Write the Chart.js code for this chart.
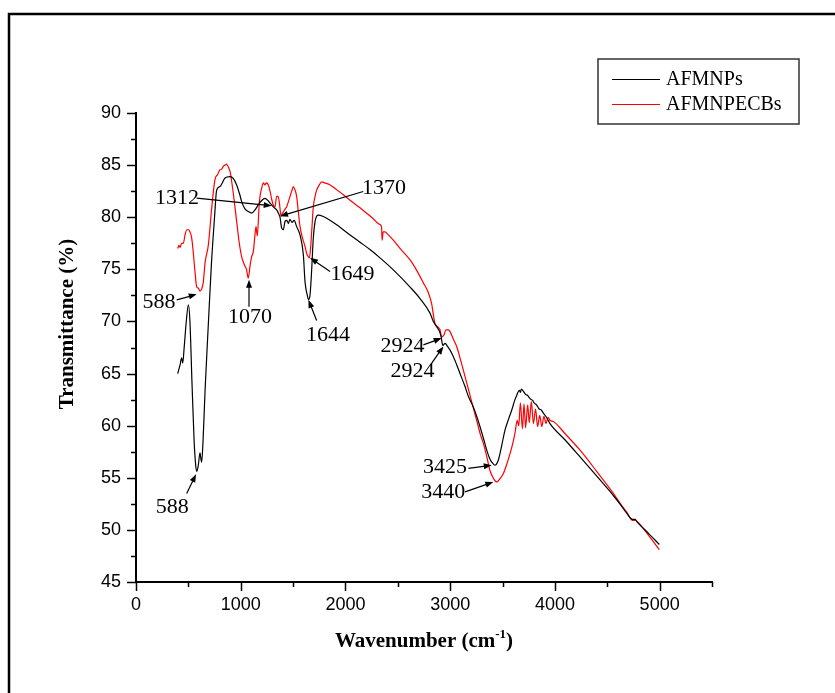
<!DOCTYPE html>
<html>
<head>
<meta charset="utf-8">
<script src="https://cdn.jsdelivr.net/npm/chart.js@4.4.0/dist/chart.umd.min.js"></script>
<style>
    html, body { margin: 0; padding: 0; background: #fff; }
    #wrap { width: 835px; height: 693px; position: relative; }
</style>
</head>
<body>
<div id="wrap"><canvas id="ftir-chart"></canvas></div>
<script>
// series names
const seriesNames = ['AFMNPs', 'AFMNPECBs'];

// AFMNPs (black)
const afmnpWn = [398, 420, 436, 446, 460, 480, 500, 515, 535, 555, 570, 580, 595, 611, 620, 627, 640, 660, 688, 720,
    750, 770, 802, 850, 898, 930, 961, 990, 1009, 1040, 1072, 1104, 1136, 1168, 1200, 1232, 1260, 1280, 1311, 1343,
    1359, 1375, 1391, 1407, 1423, 1440, 1455, 1470, 1490, 1510, 1534, 1566, 1598, 1614, 1636, 1646, 1660, 1675, 1693, 1710,
    1725, 1741, 1789, 1821, 1916, 2044, 2139, 2234, 2330, 2457, 2617, 2712, 2807, 2839, 2871, 2895, 2912, 2930, 2951, 2975,
    3015, 3060, 3094, 3140, 3174, 3221, 3250, 3285, 3320, 3349, 3375, 3397, 3428, 3460, 3490, 3524, 3560, 3588, 3615, 3635,
    3660, 3670, 3680, 3699, 3720, 3740, 3762, 3790, 3800, 3826, 3850, 3870, 3890, 3920, 3953, 4100, 4240, 4400, 4558, 4620,
    4685, 4740, 4765, 4790, 4900, 4997];
const afmnpT = [65.0, 65.8, 66.5, 66.0, 67.5, 70.0, 71.6, 70.0, 64.0, 58.5, 56.2, 55.6, 56.2, 57.4, 56.8, 56.5, 58.5, 63.5, 69.2, 75.5,
    80.0, 82.6, 82.95, 83.76, 83.9, 83.7, 83.1, 82.2, 81.5, 80.8, 80.55, 80.4, 80.7, 81.2, 81.6, 81.8, 81.6, 81.35, 81.0, 80.7,
    80.4, 80.0, 78.96, 78.8, 79.6, 79.7, 79.4, 79.8, 79.5, 79.7, 79.1, 78.3, 76.4, 73.8, 72.5, 72.1, 72.4, 74.5, 78.0, 79.6,
    80.1, 80.2, 80.07, 79.9, 79.27, 78.3, 77.6, 76.9, 76.1, 74.95, 73.3, 72.2, 70.8, 70.0, 69.5, 69.1, 68.6, 67.7, 67.9, 67.6,
    66.95, 65.9, 65.0, 63.8, 62.8, 61.8, 61.0, 59.9, 58.7, 57.65, 56.9, 56.5, 56.2, 56.7, 58.0, 59.6, 60.7, 61.5, 62.4, 62.9,
    63.4, 63.2, 63.5, 63.3, 63.0, 62.9, 62.6, 62.4, 62.2, 61.98, 61.6, 61.5, 61.2, 60.8, 60.2, 58.6, 57.0, 55.15, 53.3, 52.5,
    51.6, 51.0, 51.0, 50.7, 49.6, 48.6];

// AFMNPECBs (red)
const ecbWn = [398, 410, 420, 436, 452, 468, 485, 500, 515, 532, 548, 563, 580, 595, 611, 627, 643, 659, 691, 723,
    754, 780, 802, 818, 835, 850, 865, 882, 900, 914, 935, 961, 985, 1009, 1025, 1041, 1055, 1072, 1090, 1104,
    1120, 1136, 1146, 1158, 1178, 1200, 1216, 1230, 1245, 1264, 1280, 1296, 1310, 1327, 1343, 1356, 1369, 1385, 1395, 1407,
    1425, 1439, 1455, 1471, 1490, 1502, 1515, 1534, 1550, 1566, 1590, 1614, 1630, 1646, 1656, 1668, 1680, 1693, 1710, 1725,
    1750, 1773, 1800, 1853, 1920, 1980, 2060, 2139, 2200, 2266, 2300, 2330, 2345, 2350, 2360, 2378, 2400, 2457, 2521, 2617,
    2680, 2744, 2790, 2823, 2840, 2855, 2880, 2903, 2919, 2940, 2960, 2983, 3000, 3030, 3062, 3110, 3158, 3200, 3253, 3290,
    3317, 3350, 3380, 3410, 3444, 3475, 3508, 3540, 3571, 3600, 3619, 3640, 3655, 3670, 3690, 3705, 3720, 3740, 3755, 3775,
    3795, 3815, 3835, 3855, 3875, 3895, 3915, 3935, 3955, 3985, 4100, 4240, 4400, 4558, 4620, 4685, 4730, 4749, 4770, 4797,
    4900, 4997];
const ecbT = [77.0, 77.3, 77.1, 77.5, 77.5, 78.3, 78.8, 78.8, 78.6, 78.0, 76.5, 74.8, 73.3, 73.2, 72.9, 73.1, 73.8, 75.6, 77.35, 80.9,
    83.6, 84.1, 84.55, 84.6, 84.9, 85.0, 85.1, 84.8, 84.3, 83.4, 81.8, 79.6, 77.6, 76.2, 75.7, 75.3, 75.0, 74.15, 75.4, 76.2,
    76.7, 78.3, 79.1, 78.2, 81.5, 82.8, 83.3, 83.1, 83.3, 83.1, 82.5, 81.7, 81.2, 81.0, 82.0, 82.0, 81.4, 80.1, 80.3, 80.5,
    80.8, 81.0, 81.5, 82.0, 82.6, 82.95, 82.7, 82.0, 80.5, 79.1, 78.0, 77.2, 76.5, 76.2, 76.1, 77.2, 79.0, 81.0, 82.0, 82.6,
    83.1, 83.4, 83.3, 83.1, 82.6, 82.15, 81.5, 80.9, 80.4, 79.85, 79.5, 79.3, 79.0, 77.8, 78.6, 78.6, 78.4, 77.8, 77.0, 75.9,
    74.9, 73.7, 72.8, 71.7, 70.6, 69.8, 69.5, 69.2, 68.5, 68.7, 69.2, 69.2, 69.0, 68.3, 67.6, 65.9, 64.1, 62.5, 60.5, 59.1,
    58.3, 57.0, 55.7, 55.0, 54.6, 54.9, 55.4, 56.3, 57.3, 58.4, 59.3, 60.5, 60.0, 62.2, 59.7, 62.1, 59.8, 62.0, 60.3, 62.3,
    60.2, 61.6, 59.9, 61.0, 59.9, 60.9, 60.2, 60.8, 60.5, 60.4, 59.2, 57.65, 55.6, 53.5, 52.6, 51.7, 51.0, 50.9, 50.9, 50.7,
    49.4, 48.1];

// axis ticks
const xTickValues = [0, 1000, 2000, 3000, 4000, 5000];
const yTickValues = [45, 50, 55, 60, 65, 70, 75, 80, 85, 90];

// peak labels: text centre and arrow tail/tip, in data units
const peakLabels = [
    { text: '1312', at: [391, 81.85], from: [579, 81.83], to: [1296, 81.1] },
    { text: '1370', at: [2368, 82.8], from: [2170, 82.47], to: [1375, 80.1] },
    { text: '588', at: [220, 71.8], from: [389, 72.07], to: [580, 72.6] },
    { text: '1070', at: [1089, 70.45], from: [1079, 71.4], to: [1079, 74.0] },
    { text: '1649', at: [2067, 74.5], from: [1853, 74.8], to: [1662, 76.1] },
    { text: '1644', at: [1833, 68.7], from: [1725, 70.1], to: [1646, 72.07] },
    { text: '588', at: [345, 52.2], from: [484, 53.5], to: [573, 55.35] },
    { text: '2924', at: [2545, 67.6], from: [2744, 67.75], to: [2919, 68.4] },
    { text: '2924', at: [2640, 65.2], from: [2824, 66.0], to: [2935, 67.6] },
    { text: '3425', at: [2951, 56.05], from: [3174, 55.9], to: [3397, 56.2] },
    { text: '3440', at: [2935, 53.65], from: [3142, 53.65], to: [3412, 54.6] }
];

const serif = "'Liberation Serif', 'Times New Roman', serif";
const sans = "'Liberation Sans', Arial, sans-serif";

function toPoints(xs, ys) {
    return xs.map((x, i) => ({ x: x, y: ys[i] }));
}

function drawArrow(ctx, x0, y0, x1, y1) {
    const ang = Math.atan2(y1 - y0, x1 - x0);
    const len = 8, half = 3;
    ctx.beginPath();
    ctx.moveTo(x0, y0);
    ctx.lineTo(x1 - Math.cos(ang) * len * 0.8, y1 - Math.sin(ang) * len * 0.8);
    ctx.stroke();
    ctx.beginPath();
    ctx.moveTo(x1, y1);
    ctx.lineTo(x1 - Math.cos(ang) * len - Math.sin(ang) * half, y1 - Math.sin(ang) * len + Math.cos(ang) * half);
    ctx.lineTo(x1 - Math.cos(ang) * len + Math.sin(ang) * half, y1 - Math.sin(ang) * len - Math.cos(ang) * half);
    ctx.closePath();
    ctx.fill();
}

const decorPlugin = {
    id: 'decor',
    beforeDraw(chart) {
        const ctx = chart.ctx;
        ctx.save();
        ctx.fillStyle = '#fff';
        ctx.fillRect(0, 0, chart.width, chart.height);
        // outer frame (top and left only)
        ctx.strokeStyle = '#000';
        ctx.lineWidth = 2.5;
        ctx.beginPath();
        ctx.moveTo(9, chart.height);
        ctx.lineTo(9, 14);
        ctx.lineTo(chart.width, 14);
        ctx.stroke();
        ctx.restore();
    },
    afterDraw(chart) {
        const ctx = chart.ctx;
        const xs = chart.scales.x;
        const ys = chart.scales.y;
        ctx.save();
        ctx.strokeStyle = '#000';
        ctx.fillStyle = '#000';
        ctx.lineWidth = 1.5;

        // tick marks, major and minor, pointing outward
        for (let v = xs.min; v <= xs.max; v += 500) {
            const px = Math.round(xs.getPixelForValue(v)) + 0.5;
            const len = v % 1000 === 0 ? 9 : 5;
            ctx.beginPath();
            ctx.moveTo(px, xs.top);
            ctx.lineTo(px, xs.top + len);
            ctx.stroke();
        }
        for (let v = ys.min; v <= ys.max; v += 2.5) {
            const py = Math.round(ys.getPixelForValue(v)) + 0.5;
            const len = v % 5 === 0 ? 9 : 5;
            ctx.beginPath();
            ctx.moveTo(ys.right, py);
            ctx.lineTo(ys.right - len, py);
            ctx.stroke();
        }

        // axis titles
        ctx.font = 'bold 21px ' + serif;
        ctx.textBaseline = 'alphabetic';
        ctx.save();
        ctx.translate(73, 324);
        ctx.rotate(-Math.PI / 2);
        ctx.textAlign = 'center';
        ctx.fillText('Transmittance (%)', 0, 0);
        ctx.restore();

        const mainTxt = 'Wavenumber (cm';
        const supTxt = '-1';
        const endTxt = ')';
        ctx.font = 'bold 21px ' + serif;
        const w1 = ctx.measureText(mainTxt).width;
        const w3 = ctx.measureText(endTxt).width;
        ctx.font = 'bold 13px ' + serif;
        const w2 = ctx.measureText(supTxt).width;
        const cx = (xs.left + xs.right) / 2;
        let tx = cx - (w1 + w2 + w3) / 2;
        ctx.textAlign = 'left';
        ctx.font = 'bold 21px ' + serif;
        ctx.fillText(mainTxt, tx, 647);
        ctx.font = 'bold 13px ' + serif;
        ctx.fillText(supTxt, tx + w1, 638);
        ctx.font = 'bold 21px ' + serif;
        ctx.fillText(endTxt, tx + w1 + w2, 647);

        // peak labels with arrows
        ctx.font = '22px ' + serif;
        ctx.textAlign = 'center';
        ctx.textBaseline = 'middle';
        ctx.lineWidth = 1.2;
        peakLabels.forEach(p => {
            ctx.fillText(p.text, xs.getPixelForValue(p.at[0]), ys.getPixelForValue(p.at[1]));
            drawArrow(ctx,
                xs.getPixelForValue(p.from[0]), ys.getPixelForValue(p.from[1]),
                xs.getPixelForValue(p.to[0]), ys.getPixelForValue(p.to[1]));
        });

        // legend box
        ctx.lineWidth = 1.5;
        ctx.strokeStyle = '#333';
        ctx.strokeRect(598, 59, 201, 65);
        ctx.font = '20px ' + serif;
        ctx.textAlign = 'left';
        ctx.textBaseline = 'middle';
        chart.data.datasets.forEach((ds, i) => {
            const ly = 79 + i * 25;
            ctx.strokeStyle = ds.borderColor;
            ctx.lineWidth = 1.2;
            ctx.beginPath();
            ctx.moveTo(612, ly + 0.5);
            ctx.lineTo(660, ly + 0.5);
            ctx.stroke();
            ctx.fillStyle = '#000';
            ctx.fillText(ds.label, 666, ly + 1);
        });
        ctx.restore();
    }
};

const ctx = document.getElementById('ftir-chart').getContext('2d');
new Chart(ctx, {
    type: 'line',
    data: {
        datasets: [
            {
                label: seriesNames[0],
                data: toPoints(afmnpWn, afmnpT),
                borderColor: '#000000',
                borderWidth: 1.2,
                pointRadius: 0,
                fill: false,
                cubicInterpolationMode: 'monotone'
            },
            {
                label: seriesNames[1],
                data: toPoints(ecbWn, ecbT),
                borderColor: '#ff0000',
                borderWidth: 1.2,
                pointRadius: 0,
                fill: false,
                cubicInterpolationMode: 'monotone'
            }
        ]
    },
    options: {
        responsive: true,
        maintainAspectRatio: false,
        animation: false,
        layout: {
            padding: { left: 0, top: 113, right: 123, bottom: 0 }
        },
        plugins: {
            legend: { display: false },
            tooltip: { enabled: false }
        },
        scales: {
            x: {
                type: 'linear',
                min: 0,
                max: 5500,
                grid: { display: false },
                border: { display: true, color: '#000', width: 2 },
                afterBuildTicks: scale => { scale.ticks = xTickValues.map(v => ({ value: v })); },
                afterFit: scale => { scale.height = 111; },
                ticks: {
                    color: '#000',
                    padding: 4,
                    maxRotation: 0,
                    font: { family: sans, size: 18 },
                    callback: v => String(v)
                }
            },
            y: {
                type: 'linear',
                min: 45,
                max: 90,
                grid: { display: false },
                border: { display: true, color: '#000', width: 2 },
                afterBuildTicks: scale => { scale.ticks = yTickValues.map(v => ({ value: v })); },
                afterFit: scale => { scale.width = 136; },
                ticks: {
                    color: '#000',
                    padding: 7,
                    font: { family: sans, size: 18 },
                    callback: v => String(v)
                }
            }
        }
    },
    plugins: [decorPlugin]
});
</script>
</body>
</html>
